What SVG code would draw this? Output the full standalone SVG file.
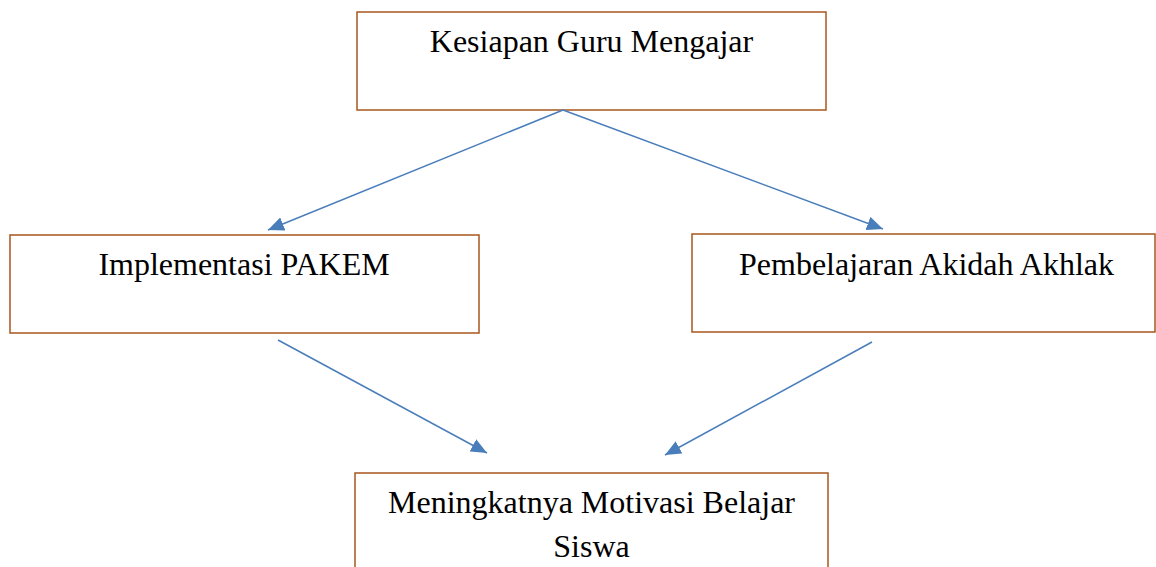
<svg xmlns="http://www.w3.org/2000/svg" width="1156" height="567" viewBox="0 0 1156 567">
<style>
.box{fill:#fff;stroke:#A8561C;stroke-width:1.5}
.t{font-family:"Liberation Serif","Times New Roman",serif;font-size:32px;fill:#000;text-anchor:middle}
.c{stroke:#4A7EBB;stroke-width:1.5;fill:none;marker-end:url(#ah)}
</style>
<defs>
<marker id="ah" markerUnits="userSpaceOnUse" markerWidth="18" markerHeight="14" refX="16" refY="7" orient="auto">
<path d="M0,0 L16,7 L0,14 z" fill="#4A7EBB"/>
</marker>
</defs>
<rect width="1156" height="567" fill="#fff"/>
<g id="n1"><rect class="box" x="357" y="12" width="469" height="98"/><text class="t" x="591.5" y="52">Kesiapan Guru Mengajar</text></g>
<g id="n2"><rect class="box" x="10" y="235" width="469" height="98"/><text class="t" x="244" y="275">Implementasi PAKEM</text></g>
<g id="n3"><rect class="box" x="692" y="234" width="463" height="98"/><text class="t" x="926.5" y="275">Pembelajaran Akidah Akhlak</text></g>
<g id="n4"><rect class="box" x="355" y="473" width="473" height="110"/><text class="t" x="591.5" y="513">Meningkatnya Motivasi Belajar</text><text class="t" x="591.5" y="557">Siswa</text></g>
<g id="connectors">
<line class="c" x1="563" y1="110" x2="268" y2="230"/>
<line class="c" x1="563" y1="110" x2="883" y2="229"/>
<line class="c" x1="278" y1="340" x2="487" y2="453"/>
<line class="c" x1="872" y1="342" x2="665" y2="455"/>
</g>
</svg>
